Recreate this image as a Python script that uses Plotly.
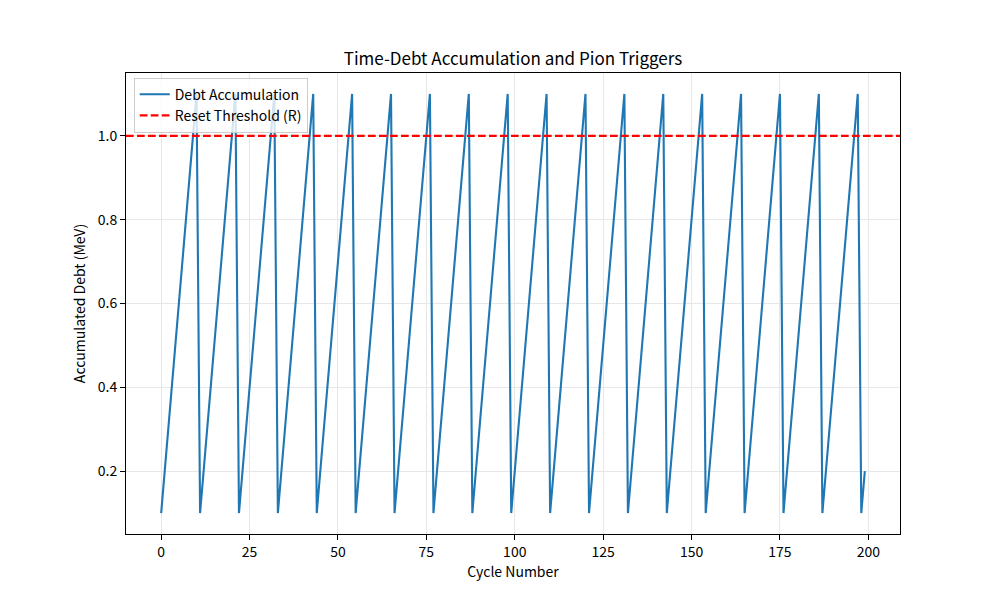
import plotly.graph_objects as go

cycle_number = list(range(200))

accumulated_debt = [
    0.1, 0.2, 0.3, 0.4, 0.5, 0.6, 0.7, 0.8, 0.9, 1.0, 1.1,
    0.1, 0.2, 0.3, 0.4, 0.5, 0.6, 0.7, 0.8, 0.9, 1.0, 1.1,
    0.1, 0.2, 0.3, 0.4, 0.5, 0.6, 0.7, 0.8, 0.9, 1.0, 1.1,
    0.1, 0.2, 0.3, 0.4, 0.5, 0.6, 0.7, 0.8, 0.9, 1.0, 1.1,
    0.1, 0.2, 0.3, 0.4, 0.5, 0.6, 0.7, 0.8, 0.9, 1.0, 1.1,
    0.1, 0.2, 0.3, 0.4, 0.5, 0.6, 0.7, 0.8, 0.9, 1.0, 1.1,
    0.1, 0.2, 0.3, 0.4, 0.5, 0.6, 0.7, 0.8, 0.9, 1.0, 1.1,
    0.1, 0.2, 0.3, 0.4, 0.5, 0.6, 0.7, 0.8, 0.9, 1.0, 1.1,
    0.1, 0.2, 0.3, 0.4, 0.5, 0.6, 0.7, 0.8, 0.9, 1.0, 1.1,
    0.1, 0.2, 0.3, 0.4, 0.5, 0.6, 0.7, 0.8, 0.9, 1.0, 1.1,
    0.1, 0.2, 0.3, 0.4, 0.5, 0.6, 0.7, 0.8, 0.9, 1.0, 1.1,
    0.1, 0.2, 0.3, 0.4, 0.5, 0.6, 0.7, 0.8, 0.9, 1.0, 1.1,
    0.1, 0.2, 0.3, 0.4, 0.5, 0.6, 0.7, 0.8, 0.9, 1.0, 1.1,
    0.1, 0.2, 0.3, 0.4, 0.5, 0.6, 0.7, 0.8, 0.9, 1.0, 1.1,
    0.1, 0.2, 0.3, 0.4, 0.5, 0.6, 0.7, 0.8, 0.9, 1.0, 1.1,
    0.1, 0.2, 0.3, 0.4, 0.5, 0.6, 0.7, 0.8, 0.9, 1.0, 1.1,
    0.1, 0.2, 0.3, 0.4, 0.5, 0.6, 0.7, 0.8, 0.9, 1.0, 1.1,
    0.1, 0.2, 0.3, 0.4, 0.5, 0.6, 0.7, 0.8, 0.9, 1.0, 1.1,
    0.1, 0.2,
]

reset_threshold = 1.0

x_ticks = [0, 25, 50, 75, 100, 125, 150, 175, 200]
y_ticks = [0.2, 0.4, 0.6, 0.8, 1.0]

FONT = "Noto Sans CJK JP"

fig = go.Figure()
fig.add_trace(go.Scatter(
    x=cycle_number, y=accumulated_debt, mode="lines",
    name="Debt Accumulation",
    line=dict(color="#1f77b4", width=2.1),
))
fig.add_hline(
    y=reset_threshold,
    line=dict(color="#ff0000", width=2.1, dash="7.7px,3.3px"),
    showlegend=True, name="Reset Threshold (R)",
)

axis_common = dict(
    showline=True, linecolor="black", linewidth=1, mirror=True,
    ticks="outside", ticklen=5, tickwidth=1, tickcolor="black",
    showgrid=True, gridcolor="#e7e7e7", gridwidth=1,
    zeroline=False,
    tickfont=dict(family=FONT, size=14, color="black"),
)

fig.update_layout(
    width=1000, height=600,
    margin=dict(l=118, r=108, t=65, b=74),
    paper_bgcolor="white", plot_bgcolor="white",
    font=dict(family=FONT, size=14, color="black"),
    title=dict(
        text="Time-Debt Accumulation and Pion Triggers",
        x=0.505, xanchor="center", y=0.905, yanchor="bottom",
        font=dict(family=FONT, size=17, color="black"),
    ),
    xaxis=dict(
        range=[-9.95, 208.95], tickvals=x_ticks,
        title=dict(text="Cycle Number", font=dict(family=FONT, size=14), standoff=6),
        **axis_common,
    ),
    yaxis=dict(
        range=[0.05, 1.15], tickvals=y_ticks, tickformat=".1f",
        title=dict(text="Accumulated Debt (MeV)", font=dict(family=FONT, size=14), standoff=8),
        **axis_common,
    ),
    legend=dict(
        x=0.01, y=0.99, xanchor="left", yanchor="top",
        bgcolor="rgba(255,255,255,0.8)", bordercolor="#cccccc", borderwidth=1,
        font=dict(family=FONT, size=14, color="black"),
        tracegroupgap=0, itemwidth=30,
    ),
    showlegend=True,
)

fig.write_html("out.html")
